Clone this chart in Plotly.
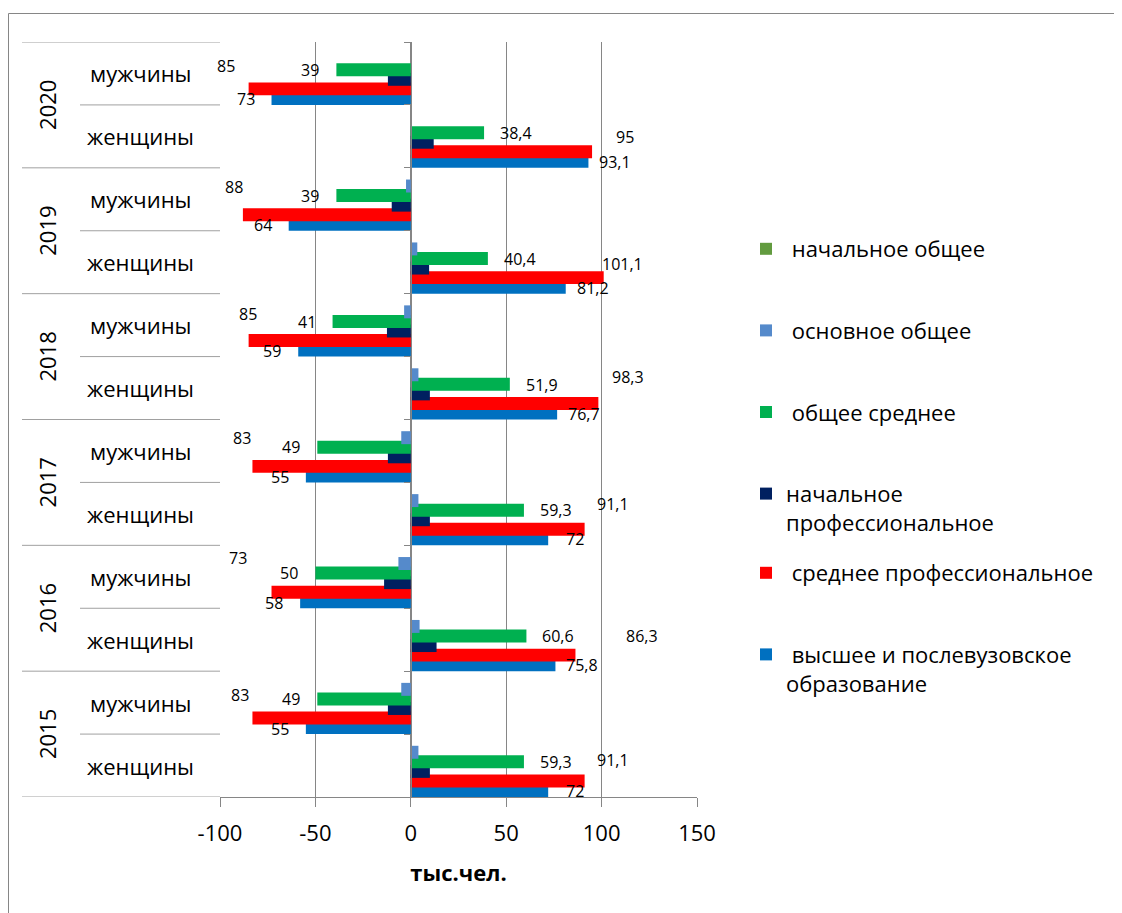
import plotly.graph_objects as go

# ---------------- data ----------------
years = ["2020", "2019", "2018", "2017", "2016", "2015"]
sexes = ["мужчины", "женщины"]
series_names = [
    "начальное общее",
    "основное общее",
    "общее среднее",
    "начальное профессиональное",
    "среднее профессиональное",
    "высшее и послевузовское образование",
]
legend_labels = [
    "\u00a0начальное общее",
    "\u00a0основное общее",
    "\u00a0общее среднее",
    "начальное<br>профессиональное",
    "\u00a0среднее профессиональное",
    "\u00a0высшее и послевузовское<br>образование",
]
colors = ["#629B3F", "#558ACB", "#00B050", "#002060", "#FF0000", "#0070C0"]

# values (thousand people), years 2020 -> 2015
men_nach_obsh = [0, 0, 0, 0, 0, 0]
men_osn_obsh = [0, 2.5, 3.5, 5, 6.5, 5]
men_obsh_sred = [39, 39, 41, 49, 50, 49]
men_nach_prof = [12, 10, 12.5, 12, 14, 12]
men_sred_prof = [85, 88, 85, 83, 73, 83]
men_vysshee = [73, 64, 59, 55, 58, 55]

women_nach_obsh = [0, 0, 0, 0, 0, 0]
women_osn_obsh = [0, 3.4, 4, 4, 4.6, 4]
women_obsh_sred = [38.4, 40.4, 51.9, 59.3, 60.6, 59.3]
women_nach_prof = [12, 9.6, 10, 10, 13.5, 10]
women_sred_prof = [95, 101.1, 98.3, 91.1, 86.3, 91.1]
women_vysshee = [93.1, 81.2, 76.7, 72, 75.8, 72]

x_tick_vals = [-100, -50, 0, 50, 100, 150]
x_tick_text = ["-100", "-50", "0", "50", "100", "150"]

men = [men_nach_obsh, men_osn_obsh, men_obsh_sred, men_nach_prof, men_sred_prof, men_vysshee]
women = [women_nach_obsh, women_osn_obsh, women_obsh_sred, women_nach_prof, women_sred_prof, women_vysshee]

cats = [f"{y} {s}" for y in years for s in sexes]

# ---------------- style ----------------
FONT = "Open Sans"
bar_centers = [-0.363, -0.211, -0.059, 0.093, 0.245, 0.397]
bar_width = 0.206
GRID = "#868686"
legend_ref = ["legend", "legend", "legend", "legend", "legend2", "legend2"]

fig = go.Figure()

for k in reversed(range(6)):
    xs = []
    for i in range(len(years)):
        xs += [-men[k][i], women[k][i]]
    fig.add_trace(go.Bar(
        x=xs, y=cats, orientation="h",
        name=legend_labels[k],
        marker=dict(color=colors[k], line=dict(width=0)),
        offset=bar_centers[k] - bar_width / 2,
        width=bar_width,
        legendrank=k + 1,
        legendgroup=f"g{k}",
        legend=legend_ref[k],
        hoverinfo="skip",
    ))


def fmt(v):
    return f"{abs(v):g}".replace(".", ",")


annotations = []
# data label shifts (px)
green_shift = {"м": (-26, 3.5), "ж": (32, 3.5)}
blue_shift = {"м": (-26, -26), "ж": (27, -25.5)}
red_men_dx = [-23, -9, -1, -10, -34, -12]
red_men_dy = [7.5, 12.5, 11.5, 12.5, 18.5, 7.5]
red_women_dx = [33, 19, 30, 28, 67, 28]
red_women_dy = [-0.5, -1.5, 11.5, 9.5, 3.5, 5.5]

lab_font = dict(family=FONT, size=16, color="#000000")
for i, yr in enumerate(years):
    cm = f"{yr} мужчины"
    cw = f"{yr} женщины"
    annotations.append(dict(x=-men_obsh_sred[i], y=cm, text=fmt(men_obsh_sred[i]),
                            xshift=green_shift["м"][0], yshift=green_shift["м"][1]))
    annotations.append(dict(x=women_obsh_sred[i], y=cw, text=fmt(women_obsh_sred[i]),
                            xshift=green_shift["ж"][0], yshift=green_shift["ж"][1]))
    annotations.append(dict(x=-men_sred_prof[i], y=cm, text=fmt(men_sred_prof[i]),
                            xshift=red_men_dx[i], yshift=red_men_dy[i]))
    annotations.append(dict(x=women_sred_prof[i], y=cw, text=fmt(women_sred_prof[i]),
                            xshift=red_women_dx[i], yshift=red_women_dy[i]))
    annotations.append(dict(x=-men_vysshee[i], y=cm, text=fmt(men_vysshee[i]),
                            xshift=blue_shift["м"][0], yshift=blue_shift["м"][1]))
    annotations.append(dict(x=women_vysshee[i], y=cw, text=fmt(women_vysshee[i]),
                            xshift=blue_shift["ж"][0], yshift=blue_shift["ж"][1]))

for a in annotations:
    a.update(xref="x", yref="y", showarrow=False, xanchor="center", yanchor="middle", font=lab_font)

# page offset of the plot div (body margin) and plot area in page pixels
PAGE_OFF = 8
L, R, T, B = 220, 697, 42, 797
FIG_W, FIG_H = 1122 - PAGE_OFF, 913 - PAGE_OFF


def px_x(p):
    return (p - L) / (R - L)


def px_y(p):
    return (B - p) / (B - T)


cat_font = dict(family=FONT, size=22, color="#000000")
for i, yr in enumerate(years):
    annotations.append(dict(xref="paper", yref="y", x=px_x(47), y=2 * i + 0.5, text=yr,
                            textangle=-90, showarrow=False, font=cat_font,
                            xanchor="center", yanchor="middle"))
    for j, s in enumerate(sexes):
        annotations.append(dict(xref="paper", yref="y", x=px_x(140), y=2 * i + j, text=s,
                                showarrow=False, font=cat_font, xanchor="center", yanchor="middle"))

shapes = []
LINE_C = "#A0A0A0"
for i in range(len(years) + 1):
    shapes.append(dict(type="line", xref="paper", yref="y", x0=px_x(22), x1=0,
                       y0=2 * i - 0.5, y1=2 * i - 0.5, line=dict(color=LINE_C, width=1)))
for i in range(len(years)):
    shapes.append(dict(type="line", xref="paper", yref="y", x0=px_x(80), x1=0,
                       y0=2 * i + 0.5, y1=2 * i + 0.5, line=dict(color=LINE_C, width=1)))
shapes.append(dict(type="line", xref="paper", yref="paper", x0=px_x(8.5), x1=px_x(1125),
                   y0=px_y(13.5), y1=px_y(13.5), line=dict(color=GRID, width=1)))
shapes.append(dict(type="line", xref="paper", yref="paper", x0=px_x(8.5), x1=px_x(8.5),
                   y0=px_y(13.5), y1=px_y(916), line=dict(color=GRID, width=1)))

legend_common = dict(
    xanchor="left", yanchor="top",
    font=dict(family=FONT, size=22, color="#000000"),
    tracegroupgap=50, valign="top", bgcolor="rgba(0,0,0,0)",
    itemclick=False, itemdoubleclick=False,
)

fig.update_layout(
    width=FIG_W, height=FIG_H,
    margin=dict(l=L - PAGE_OFF, r=FIG_W - (R - PAGE_OFF), t=T - PAGE_OFF, b=FIG_H - (B - PAGE_OFF)),
    paper_bgcolor="white", plot_bgcolor="white",
    barmode="overlay",
    font=dict(family=FONT, color="#000000"),
    showlegend=True,
    legend=dict(x=px_x(746), y=px_y(228), **legend_common),
    legend2=dict(x=px_x(746), y=px_y(552), **legend_common),
    xaxis=dict(
        range=[-100, 150], tickvals=x_tick_vals, ticktext=x_tick_text,
        tickfont=dict(family=FONT, size=22, color="#000000"),
        showgrid=True, gridcolor=GRID, gridwidth=1,
        showline=True, linecolor=GRID, linewidth=1,
        ticks="outside", ticklen=9, tickcolor=GRID, ticklabelstandoff=8,
        zeroline=False, fixedrange=True,
        title=dict(text="<b>тыс.чел.</b>", font=dict(family=FONT, size=22, color="#000000"),
                   standoff=19),
    ),
    yaxis=dict(
        type="category", categoryorder="array", categoryarray=cats,
        range=[len(cats) - 0.5, -0.5],
        anchor="free", position=0.4,
        showticklabels=False, showgrid=False, zeroline=False,
        showline=True, linecolor=GRID, linewidth=1,
        ticks="outside", ticklen=7, tickcolor=GRID, tickson="boundaries",
        fixedrange=True,
    ),
    annotations=annotations,
    shapes=shapes,
)

fig.write_html("out.html")
